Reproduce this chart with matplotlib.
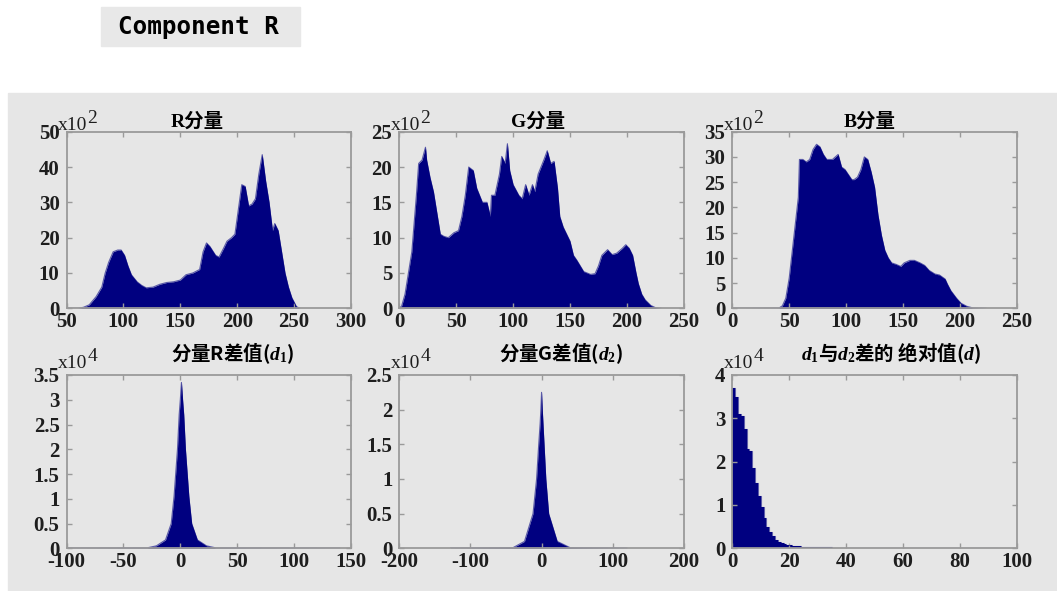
import numpy as np
import matplotlib.pyplot as plt
from matplotlib.patches import Rectangle

# histogram heights (y in units of the x10^n multiplier)
r_x = [50, 60, 62, 65, 70, 76, 81, 84, 87, 91, 95, 98, 101, 104, 107, 112, 116, 120, 126, 132,
       138, 144, 150, 155, 161, 167, 170, 173, 176, 181, 184, 188, 191, 195, 198, 201, 204, 207,
       210, 213, 216, 219, 222, 225, 228, 231, 233, 236, 239, 242, 245, 248, 252, 255]
r_y = [0, 0, 0.1, 0.3, 1, 3.3, 6, 10, 13, 16, 16.5, 16.5, 15, 12, 9.5, 7.5, 6.5, 5.8, 6, 6.8,
       7.3, 7.5, 8, 9.5, 10, 11, 16, 18.5, 17.5, 15, 14.5, 17, 19, 20, 21, 28, 35, 34.5,
       29, 29.5, 31, 38, 43.5, 36, 30, 22, 24, 22, 16, 10, 6, 3, 0.5, 0]

g_x = [0, 2, 5, 8, 11, 13, 15, 17, 20, 23, 24, 27, 30, 33, 36, 39, 43, 48, 52, 55,
       58, 61, 65, 68, 73, 77, 80, 81, 84, 88, 90, 93, 95, 97, 100, 105, 108, 111, 114, 117,
       119, 122, 127, 130, 133, 136, 139, 141, 144, 147, 150, 153, 156, 159, 162, 168, 172, 175,
       178, 183, 187, 191, 196, 199, 202, 205, 208, 210, 213, 216, 221, 225, 230]
g_y = [0, 0.3, 2, 5, 8, 12, 16, 20.5, 21, 22.8, 21, 18.5, 16.5, 13.5, 10.5, 10.2, 10, 10.7, 11, 13,
       16, 20, 19.5, 17, 15, 15, 13, 16, 16, 19, 21.5, 20.5, 23.3, 19.5, 17.5, 16, 15.5, 17.5, 16, 17.5,
       16.5, 19, 21, 22.3, 20.5, 20.8, 17, 13, 11.5, 10.5, 9.5, 7.5, 6.8, 6, 5.2, 4.8, 4.9, 6,
       7.5, 8.3, 7.6, 7.8, 8.5, 9, 8.5, 7.5, 5, 3.5, 2, 1.2, 0.4, 0.1, 0]

b_x = [0, 10, 41, 44, 47, 50, 53, 56, 58, 59, 62, 65, 68, 71, 74, 77, 80, 83, 85, 88,
       93, 96, 99, 102, 105, 107, 110, 113, 116, 119, 122, 125, 128, 131, 134, 137, 140, 144, 148,
       151, 156, 160, 165, 169, 173, 178, 182, 187, 189, 192, 197, 201, 206, 211, 223]
b_y = [0, 0, 0.05, 0.5, 2, 6, 12, 18, 22, 29.5, 29.5, 29, 29.5, 31.5, 32.5, 32, 30.5, 29.5, 29.5, 29.5,
       30.5, 28, 27.5, 26.5, 25.5, 25.5, 26, 27.5, 30, 29.5, 27, 24, 18.5, 14.5, 11.5, 10, 9, 8.7, 8.3,
       9, 9.5, 9.5, 9, 8.5, 7.5, 6.8, 6.6, 5.8, 4.8, 3.5, 2, 1, 0.4, 0.1, 0]

d1_x = [-100, -29, -21, -13, -8, -5.5, -2.5, -1, 0, 1, 2, 3, 4.5, 7.5, 10, 15, 23, 31, 140]
d1_y = [0.003, 0.01, 0.05, 0.17, 0.5, 1.05, 2.0, 2.7, 3.0, 3.35, 3.0, 2.7, 2.0, 1.05, 0.5, 0.17, 0.05, 0.01, 0.003]

d2_x = [-128, -40, -24, -12, -7, -4, -2, -1, 0, 1, 2, 4, 6, 10, 22, 40, 120]
d2_y = [0.003, 0.01, 0.1, 0.5, 1.0, 1.5, 1.8, 2.0, 2.25, 2.0, 1.8, 1.4, 1.0, 0.5, 0.1, 0.01, 0.003]

d_x = [0, 1, 2, 3, 4, 5, 6, 7, 8, 9, 10, 11, 12, 13, 14, 15, 16, 17, 18, 19, 20, 21, 22, 24, 26,
       30, 35, 40, 60, 80, 92, 93]
d_y = [3.7, 3.5, 3.1, 3.05, 2.75, 2.3, 2.25, 1.85, 1.5, 1.2, 0.95, 0.7, 0.5, 0.38, 0.28, 0.2, 0.15,
       0.12, 0.1, 0.08, 0.07, 0.06, 0.05, 0.04, 0.03, 0.02, 0.015, 0.01, 0.006, 0.004, 0.003, 0.003]

plt.rcParams['font.family'] = 'Liberation Serif'
plt.rcParams['font.weight'] = 'bold'
plt.rcParams['mathtext.fontset'] = 'custom'
plt.rcParams['mathtext.rm'] = 'Liberation Serif:bold'
plt.rcParams['mathtext.it'] = 'Liberation Serif:italic:bold'

BAR = '#000080'
PANEL = '#e6e6e6'
FRAME = '#9a9a9a'

fig = plt.figure(figsize=(10.57, 5.91), dpi=100)
fig.add_artist(Rectangle((8 / 1057, 0), 1, (591 - 93) / 591, transform=fig.transFigure,
                         color=PANEL, zorder=-5))
fig.add_artist(Rectangle((101 / 1057, 1 - 46 / 591), 199 / 1057, 39 / 591, transform=fig.transFigure,
                         color='#e8e8e8', zorder=-5))
fig.text(118 / 1057, 1 - 34 / 591, 'Component R', family='DejaVu Sans Mono', weight='bold',
         fontsize=17.5, va='baseline', ha='left')


def panel(pos, x, y, xlim, xticks, ylim, yticks, exp, exp_y, step=False):
    ax = fig.add_axes(pos)
    ax.set_facecolor(PANEL)
    if step:
        ax.fill_between(x, y, step='post', color=BAR, lw=0)
        ax.step(x, y, where='post', color=BAR, lw=0.8, alpha=0.6)
    else:
        ax.fill_between(x, y, color=BAR, lw=0)
        ax.plot(x, y, color=BAR, lw=0.8, alpha=0.6)
    ax.set_xlim(xlim)
    ax.set_ylim(ylim)
    ax.set_xticks(xticks)
    ax.set_xticklabels(['%g' % t for t in xticks])
    ax.set_yticks(yticks)
    ax.set_yticklabels(['%g' % t for t in yticks])
    ax.tick_params(direction='in', top=True, right=True, length=3.5, width=1, color=FRAME,
                   labelsize=15, labelcolor='#1e1e1e')
    ax.tick_params(axis='y', pad=5)
    ax.tick_params(axis='x', pad=3)
    for s in ax.spines.values():
        s.set_color(FRAME)
        s.set_linewidth(1.3)
    # MATLAB-style multiplier above the y axis
    t = ax.text(-0.03, exp_y, 'x10', transform=ax.transAxes, fontsize=14, weight='normal',
                va='baseline', ha='left', color='#1e1e1e')
    ax.annotate(str(exp), xy=(1, 0), xycoords=t, xytext=(0, 7), textcoords='offset pixels',
                fontsize=14, weight='normal', va='bottom', ha='left', color='#1e1e1e')
    return ax


top_b, top_h = 1 - 308.3 / 591, 176.6 / 591
bot_b, bot_h = 1 - 548.3 / 591, 173.3 / 591
lefts = [66.5 / 1057, 399.3 / 1057, 732.3 / 1057]
w = 284.5 / 1057

cjk = ['Liberation Serif', 'Noto Sans CJK SC']

ax1 = panel([lefts[0], top_b, w, top_h], r_x, r_y, (50, 300), range(50, 301, 50), (0, 50),
            range(0, 51, 10), 2, 1.01)
ax1.text(0.459, 1.027, 'R分量', transform=ax1.transAxes, ha='center', va='baseline', fontsize=14, family=cjk)
ax2 = panel([lefts[1], top_b, w, top_h], g_x, g_y, (0, 250), range(0, 251, 50), (0, 25),
            range(0, 26, 5), 2, 1.01)
ax2.text(0.488, 1.027, 'G分量', transform=ax2.transAxes, ha='center', va='baseline', fontsize=14, family=cjk)
ax3 = panel([lefts[2], top_b, w, top_h], b_x, b_y, (0, 250), range(0, 251, 50), (0, 35),
            range(0, 36, 5), 2, 1.01)
ax3.text(0.482, 1.027, 'B分量', transform=ax3.transAxes, ha='center', va='baseline', fontsize=14, family=cjk)

ax4 = panel([lefts[0], bot_b, w, bot_h], d1_x, d1_y, (-100, 150), range(-100, 151, 50), (0, 3.5),
            np.arange(0, 3.51, 0.5), 4, 1.04)
ax4.text(0.585, 1.085, '分量R差值($d_1$)', transform=ax4.transAxes, ha='center', va='baseline',
         fontsize=14, family='Noto Sans CJK SC')
ax5 = panel([lefts[1], bot_b, w, bot_h], d2_x, d2_y, (-200, 200), range(-200, 201, 100), (0, 2.5),
            np.arange(0, 2.51, 0.5), 4, 1.04)
ax5.text(0.569, 1.085, '分量G差值($d_2$)', transform=ax5.transAxes, ha='center', va='baseline',
         fontsize=14, family='Noto Sans CJK SC')
ax6 = panel([lefts[2], bot_b, w, bot_h], d_x, d_y, (0, 100), range(0, 101, 20), (0, 4), range(0, 5),
            4, 1.04, step=True)
ax6.text(0.558, 1.085, '$d_1$与$d_2$差的 绝对值($d$)', transform=ax6.transAxes, ha='center', va='baseline',
         fontsize=14, family='Noto Sans CJK SC')

fig.savefig('out.png', dpi=100)
